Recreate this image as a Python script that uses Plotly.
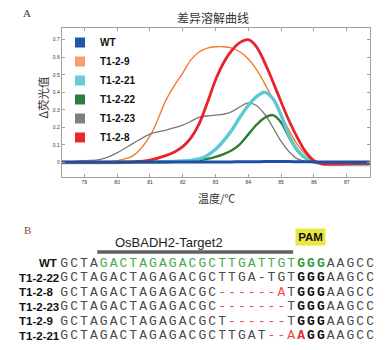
import plotly.graph_objects as go

# ---------------- Panel A data ----------------
temps = [78.3, 78.5, 79.0, 79.5, 80.0, 80.5, 81.0, 81.5, 81.75, 82.0, 82.25, 82.5,
         82.75, 83.0, 83.25, 83.5, 83.75, 84.0, 84.25, 84.5, 84.75, 85.0, 85.25,
         85.5, 85.75, 86.0, 86.25, 86.5, 87.0, 87.5, 87.7]

wt = [0.002, 0.002, 0.002, 0.002, 0.002, 0.002, 0.002, 0.002, 0.002, 0.002, 0.003,
      0.003, 0.003, 0.003, 0.003, 0.003, 0.004, 0.004, 0.004, 0.005, 0.005, 0.005,
      0.005, 0.004, 0.004, 0.003, 0.003, 0.003, 0.003, 0.003, 0.003]
t1_2_9 = [0.0, 0.0, 0.001, 0.003, 0.01, 0.04, 0.15, 0.36, 0.44, 0.51, 0.585, 0.63,
          0.652, 0.66, 0.66, 0.652, 0.63, 0.59, 0.53, 0.45, 0.36, 0.27, 0.18, 0.10,
          0.045, 0.01, -0.003, -0.005, -0.005, -0.005, -0.005]
t1_2_21 = [0.0, 0.0, 0.0, 0.0, 0.0, 0.001, 0.002, 0.004, 0.006, 0.008, 0.012, 0.02,
           0.04, 0.075, 0.125, 0.185, 0.26, 0.325, 0.375, 0.40, 0.365, 0.27, 0.15,
           0.07, 0.025, 0.003, -0.008, -0.012, -0.012, -0.012, -0.012]
t1_2_22 = [0.0, 0.0, 0.0, 0.0, 0.0, 0.001, 0.001, 0.002, 0.003, 0.005, 0.008, 0.013,
           0.02, 0.032, 0.048, 0.07, 0.105, 0.16, 0.215, 0.255, 0.27, 0.228, 0.14,
           0.065, 0.022, 0.004, -0.004, -0.006, -0.006, -0.005, -0.005]
t1_2_23 = [0.003, 0.004, 0.01, 0.018, 0.055, 0.11, 0.162, 0.185, 0.198, 0.213, 0.235,
           0.258, 0.265, 0.27, 0.275, 0.29, 0.318, 0.34, 0.325, 0.275, 0.2, 0.12,
           0.06, 0.02, 0.005, 0.0, 0.002, 0.005, 0.003, 0.001, 0.001]
t1_2_8 = [0.0, 0.0, 0.0, 0.0, 0.001, 0.003, 0.013, 0.04, 0.06, 0.09, 0.14, 0.22,
          0.34, 0.47, 0.57, 0.64, 0.685, 0.70, 0.66, 0.57, 0.46, 0.345, 0.235, 0.14,
          0.06, 0.01, -0.008, -0.01, -0.008, -0.006, -0.006]

legend_names = ["WT", "T1-2-9", "T1-2-21", "T1-2-22", "T1-2-23", "T1-2-8"]
legend_colors = ["#2456A6", "#F7A06E", "#66CDD6", "#2F7D3B", "#808080", "#E8282E"]

x_ticks = [79, 80, 81, 82, 83, 84, 85, 86, 87]
y_ticks = [0, 0.1, 0.2, 0.3, 0.4, 0.5, 0.6, 0.7]

# ---------------- Panel B data ----------------
seq_labels = ["WT", "T1-2-22", "T1-2-8", "T1-2-23", "T1-2-9", "T1-2-21"]
seqs = [
    "GCTAGACTAGAGACGCTTGATTGTGGGAAGCC",
    "GCTAGACTAGAGACGCTTGA-TGTGGGAAGCC",
    "GCTAGACTAGAGACGC------ATGGGAAGCC",
    "GCTAGACTAGAGACGC-------TGGGAAGCC",
    "GCTAGACTAGAGACGCT------TGGGAAGCC",
    "GCTAGACTAGAGACGCTTGAT--AAGGAAGCC",
]
# n normal grey, g green, G green bold, k black bold, r red, R red bold
seq_styles = [
    "nnnn" "gggggggggggggggggggg" "GGG" "nnnnn",
    "nnnnnnnnnnnnnnnnnnnnnnnn" "kkk" "nnnnn",
    "nnnnnnnnnnnnnnnn" "rrrrrr" "r" "n" "kkk" "nnnnn",
    "nnnnnnnnnnnnnnnn" "rrrrrrr" "n" "kkk" "nnnnn",
    "nnnnnnnnnnnnnnnnn" "rrrrrr" "n" "kkk" "nnnnn",
    "nnnnnnnnnnnnnnnnnnnnn" "rr" "r" "R" "kk" "nnnnn",
]
target_span = [3.35, 23.2]
pam_center = 25

style_map = {
    "n": ("#4a4a4a", "normal"),
    "g": ("#45A84F", "normal"),
    "G": ("#2E9B3C", "bold"),
    "k": ("#111111", "bold"),
    "r": ("#F04848", "normal"),
    "R": ("#E82C2C", "bold"),
}

W, H = 388, 350
fig = go.Figure()

series = [
    (t1_2_9, "#F47B2C", 1.4),
    (t1_2_23, "#7A7A7A", 1.3),
    (t1_2_22, "#2E7D32", 2.4),
    (t1_2_21, "#5BC8D3", 3.4),
    (t1_2_8, "#E8232A", 2.8),
    (wt, "#1E4FA0", 3.0),
]
for vals, col, w in series:
    fig.add_trace(go.Scatter(x=temps, y=vals, mode="lines", showlegend=False,
                             line=dict(color=col, width=w, shape="spline", smoothing=0.9),
                             hoverinfo="skip"))

for name, col in zip(legend_names, legend_colors):
    fig.add_trace(go.Scatter(x=[None], y=[None], mode="markers", name=name,
                             marker=dict(symbol="square", size=10, color=col)))

# sequence characters
for code, (col, wgt) in style_map.items():
    xs, ys, ts = [], [], []
    for k, (s, st) in enumerate(zip(seqs, seq_styles)):
        for i, (ch, c) in enumerate(zip(s, st)):
            if c == code:
                xs.append(i)
                ys.append(k)
                ts.append(ch)
    if xs:
        fig.add_trace(go.Scatter(x=xs, y=ys, text=ts, mode="text", showlegend=False,
                                 xaxis="x2", yaxis="y2", hoverinfo="skip",
                                 textposition="middle center",
                                 textfont=dict(family="Liberation Mono, Courier New, monospace",
                                               size=13, color=col, weight=wgt)))

axis_common = dict(showline=True, linecolor="#A0A0A0", linewidth=1, mirror="ticks",
                   ticks="inside", ticklen=3, tickcolor="#A0A0A0", showgrid=False,
                   zeroline=False, tickfont=dict(family="Liberation Sans, Arial", size=5, color="#333"))

fig.update_layout(
    width=W, height=H, margin=dict(l=0, r=0, t=0, b=0),
    paper_bgcolor="white", plot_bgcolor="rgba(0,0,0,0)",
    xaxis=dict(domain=[61.7 / W, 370 / W], range=[78.31, 87.71], tickvals=x_ticks,
               anchor="y", **axis_common),
    yaxis=dict(domain=[1 - 177 / H, 1 - 28 / H], range=[-0.083, 0.767], tickvals=y_ticks,
               anchor="x", **axis_common),
    xaxis2=dict(domain=[0, 1], range=[-6.505, 32.81], visible=False, anchor="y2"),
    yaxis2=dict(domain=[0, 126 / H], range=[5.98, -2.71], visible=False, anchor="x2"),
    legend=dict(x=60 / W, y=1 - 28 / H, xanchor="left", yanchor="top",
                bgcolor="rgba(0,0,0,0)", tracegroupgap=0,
                font=dict(family="Liberation Sans, Arial", size=10, color="#111", weight="bold")),
    showlegend=True,
)

cjk = "Noto Sans CJK SC"
ann = [
    dict(text="A", x=27 / W, y=1 - 13 / H, font=dict(family="Liberation Serif", size=11, color="#333")),
    dict(text="差异溶解曲线", x=212.5 / W, y=1 - 17 / H, font=dict(family=cjk, size=12, color="#333")),
    dict(text="Δ荧光值", x=42.5 / W, y=1 - 97 / H, textangle=-90, font=dict(family=cjk, size=11.5, color="#333")),
    dict(text="温度/℃", x=216 / W, y=1 - 198 / H, font=dict(family=cjk, size=11, color="#333")),
    dict(text="B", x=27 / W, y=1 - 229.5 / H, font=dict(family="Liberation Serif", size=11, color="#8B4A2B")),
    dict(text="OsBADH2-Target2", x=113 / W, y=1 - 242.5 / H, xanchor="left",
         font=dict(family="Liberation Sans, Arial", size=13, color="#222")),
    dict(text="<b>PAM</b>", x=pam_center, y=-1.81, xref="x2", yref="y2", width=29, height=16,
         bgcolor="#E8E640", borderpad=0, font=dict(family="Liberation Sans, Arial", size=11.5, color="#111")),
]
for a in ann:
    a.setdefault("xref", "paper")
    a.setdefault("yref", "paper")
    a.setdefault("xanchor", "center")
    a.setdefault("yanchor", "middle")
    a["showarrow"] = False
    fig.add_annotation(**a)

for k, lab in enumerate(seq_labels):
    if lab == "WT":
        fig.add_annotation(text="<b>WT</b>", x=-0.55, y=k, xref="x2", yref="y2", xanchor="right",
                           yanchor="middle", showarrow=False,
                           font=dict(family="Liberation Sans, Arial", size=11.5, color="#111"))
    else:
        fig.add_annotation(text="<b>%s</b>" % lab, x=17 / W, y=k, xref="paper", yref="y2",
                           xanchor="left", yanchor="middle", showarrow=False,
                           font=dict(family="Liberation Sans, Arial", size=11.5, color="#111"))

fig.add_shape(type="line", xref="x2", yref="y2", x0=target_span[0], x1=target_span[1],
              y0=-0.78, y1=-0.78, line=dict(color="#606060", width=3.3))

fig.write_html("out.html", config={"displayModeBar": False},
               post_script="document.body.style.margin='0';")
